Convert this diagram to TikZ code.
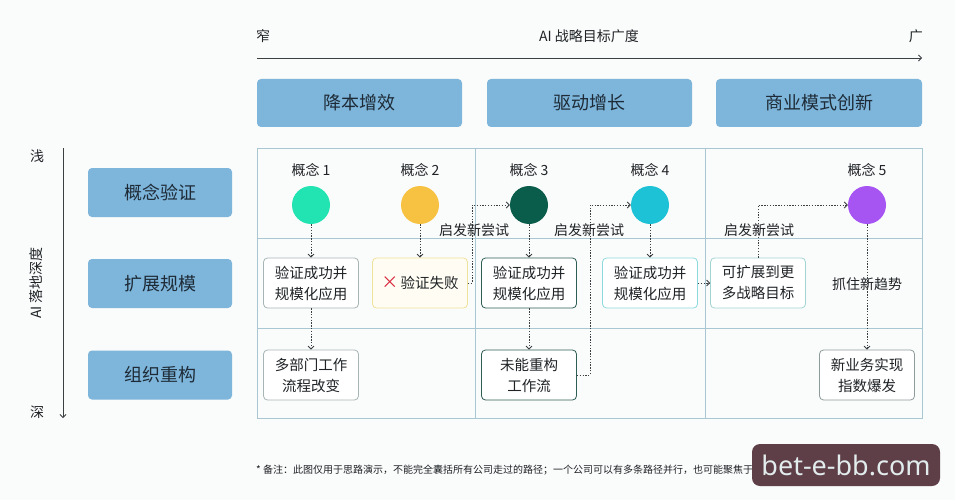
\documentclass[tikz,border=0pt]{standalone}
\usepackage{fontspec}
\setmainfont{Noto Sans CJK SC}
\newfontfamily\latinsans{Noto Sans}
\usetikzlibrary{arrows.meta}
\definecolor{bg}{HTML}{FAFBFB}
\definecolor{hdr}{HTML}{7DB5DB}
\definecolor{hdrtext}{HTML}{1E2B36}
\definecolor{gridc}{HTML}{A9C6D3}
\definecolor{cA}{HTML}{22E3B2}
\definecolor{cB}{HTML}{F7C241}
\definecolor{cC}{HTML}{0B5D4B}
\definecolor{cD}{HTML}{1DC2D7}
\definecolor{cE}{HTML}{A655F2}
\definecolor{bdgray}{HTML}{A8B5B5}
\definecolor{bdyel}{HTML}{EFE29A}
\definecolor{fillyel}{HTML}{FFFDF3}
\definecolor{bddark}{HTML}{2F5E55}
\definecolor{bdcyan}{HTML}{8ED9DE}
\definecolor{bdteal}{HTML}{A3D4D2}
\definecolor{bdgray2}{HTML}{8E9B9B}
\definecolor{xred}{HTML}{D8263C}
\definecolor{txt}{HTML}{1F2326}
\definecolor{flowc}{HTML}{3A3F42}
\definecolor{wm}{HTML}{5E3F48}
\definecolor{wmtext}{HTML}{E2ECEC}
\begin{document}
\begin{tikzpicture}[x=1pt,y=-1pt,
  every node/.style={text=txt},
  hdrbox/.style={fill=hdr, rounded corners=4pt, inner sep=0pt, text=hdrtext,
    font=\fontsize{18}{21}\selectfont},
  cellbox/.style={draw, fill=white, rounded corners=4pt, line width=0.8pt,
    minimum width=95pt, minimum height=50pt, inner sep=0pt, align=center,
    font=\fontsize{14.5}{21}\selectfont},
  dot/.style={circle, minimum size=38pt, inner sep=0pt},
  lbl/.style={font=\fontsize{14}{17}\selectfont, inner sep=1pt},
  flow/.style={draw=flowc, line width=0.8pt, dash pattern=on 1.3pt off 1.5pt,
    -{Straight Barb[length=3pt,width=6pt]}},
  axisline/.style={draw=flowc, line width=0.8pt, -{Straight Barb[length=3pt,width=6pt]}},
  gridl/.style={draw=gridc, line width=0.8pt}
]
\path[fill=bg] (0,0) rectangle (955,500);

% top axis
\coordinate (ax0) at (257,58);
\coordinate (ax1) at (922,58);
\draw[axisline] (ax0) -- (ax1);
\node[lbl, anchor=west] (narrow) at (255,36) {窄};
\node[lbl] (axt) at (589,36) {AI 战略目标广度};
\node[lbl, anchor=east] (wide) at (924,36) {广};

% header boxes
\node[hdrbox, minimum width=205pt, minimum height=48pt] (h1) at (359.5,103) {降本增效};
\node[hdrbox, minimum width=205pt, minimum height=48pt] (h2) at (589.5,103) {驱动增长};
\node[hdrbox, minimum width=206pt, minimum height=48pt] (h3) at (819,103) {商业模式创新};

% left axis
\coordinate (ay0) at (63,148);
\coordinate (ay1) at (63,418);
\draw[axisline] (ay0) -- (ay1);
\node[lbl] (shallow) at (37,156) {浅};
\node[lbl] (deep) at (37,412) {深};
\node[lbl, rotate=90] (ayt) at (36,283) {AI 落地深度};

% row boxes
\node[hdrbox, minimum width=144pt, minimum height=49pt] (r1) at (160,192.5) {概念验证};
\node[hdrbox, minimum width=144pt, minimum height=49pt] (r2) at (160,283.5) {扩展规模};
\node[hdrbox, minimum width=144pt, minimum height=49pt] (r3) at (160,375) {组织重构};

% grid
\draw[gridl] (257,148) rectangle (922,418);
\draw[gridl] (475,148) -- (475,418);
\draw[gridl] (705,148) -- (705,418);
\draw[gridl] (257,238) -- (922,238);
\draw[gridl] (257,328) -- (922,328);

% concept labels and circles
\node[lbl] (l1) at (311,170) {概念 1};
\node[lbl] (l2) at (420,170) {概念 2};
\node[lbl] (l3) at (529,170) {概念 3};
\node[lbl] (l4) at (650,170) {概念 4};
\node[lbl] (l5) at (867,170) {概念 5};
\node[dot, fill=cA] (c1) at (311,205) {};
\node[dot, fill=cB] (c2) at (420,205) {};
\node[dot, fill=cC] (c3) at (529,205) {};
\node[dot, fill=cD] (c4) at (650,205) {};
\node[dot, fill=cE] (c5) at (867,205) {};

% cells row 2
\node[cellbox, draw=bdgray] (b1) at (311,283) {验证成功并\\规模化应用};
\node[cellbox, draw=bdyel, fill=fillyel] (b2) at (420,283) {{\color{xred}\fontsize{17}{17}\selectfont ×}\,验证失败};
\node[cellbox, draw=bddark] (b3) at (529,283) {验证成功并\\规模化应用};
\node[cellbox, draw=bdcyan] (b4) at (650,283) {验证成功并\\规模化应用};
\node[cellbox, draw=bdteal] (b5) at (758,283) {可扩展到更\\多战略目标};

% cells row 3
\node[cellbox, draw=bdgray] (d1) at (311,375) {多部门工作\\流程改变};
\node[cellbox, draw=bddark] (d3) at (529,375) {未能重构\\工作流};
\node[cellbox, draw=bdgray2] (d5) at (867,375) {新业务实现\\指数爆发};

% flows
\draw[flow] (c1) -- (c1 |- b1.north);
\draw[flow] (b1) -- (b1 |- d1.north);
\draw[flow] (c2) -- (c2 |- b2.north);
\coordinate (k1) at (472,283);
\draw[flow] (b2.east) -- (k1) |- (c3.west);
\draw[flow] (c3) -- (c3 |- b3.north);
\draw[flow] (b3) -- (b3 |- d3.north);
\coordinate (k2) at (590,375);
\draw[flow] (d3.east) -- (k2) |- (c4.west);
\draw[flow] (c4) -- (c4 |- b4.north);
\draw[flow] (b4.east) -- (b5.west);
\draw[flow] (b5.north) |- (c5.west);
\draw[flow] (c5) -- (c5 |- d5.north);

% flow labels
\node[lbl] (t1) at (474,230) {启发新尝试};
\node[lbl] (t2) at (589,230) {启发新尝试};
\node[lbl] (t3) at (759,230) {启发新尝试};
\node[lbl] (t4) at (867,284) {抓住新趋势};

% footnote
\node[anchor=west, inner sep=0pt, font=\fontsize{10}{12}\selectfont] (note) at (256,470)
  {* 备注：此图仅用于思路演示，不能完全囊括所有公司走过的路径；一个公司可以有多条路径并行，也可能聚焦于一条路径。};

% watermark
\node[fill=wm, rounded corners=8pt, minimum width=188pt, minimum height=42pt, inner sep=0pt,
  text=wmtext, font=\latinsans\fontsize{27}{30}\selectfont] (wmk) at (846,465) {bet-e-bb.com};
\end{tikzpicture}
\end{document}
